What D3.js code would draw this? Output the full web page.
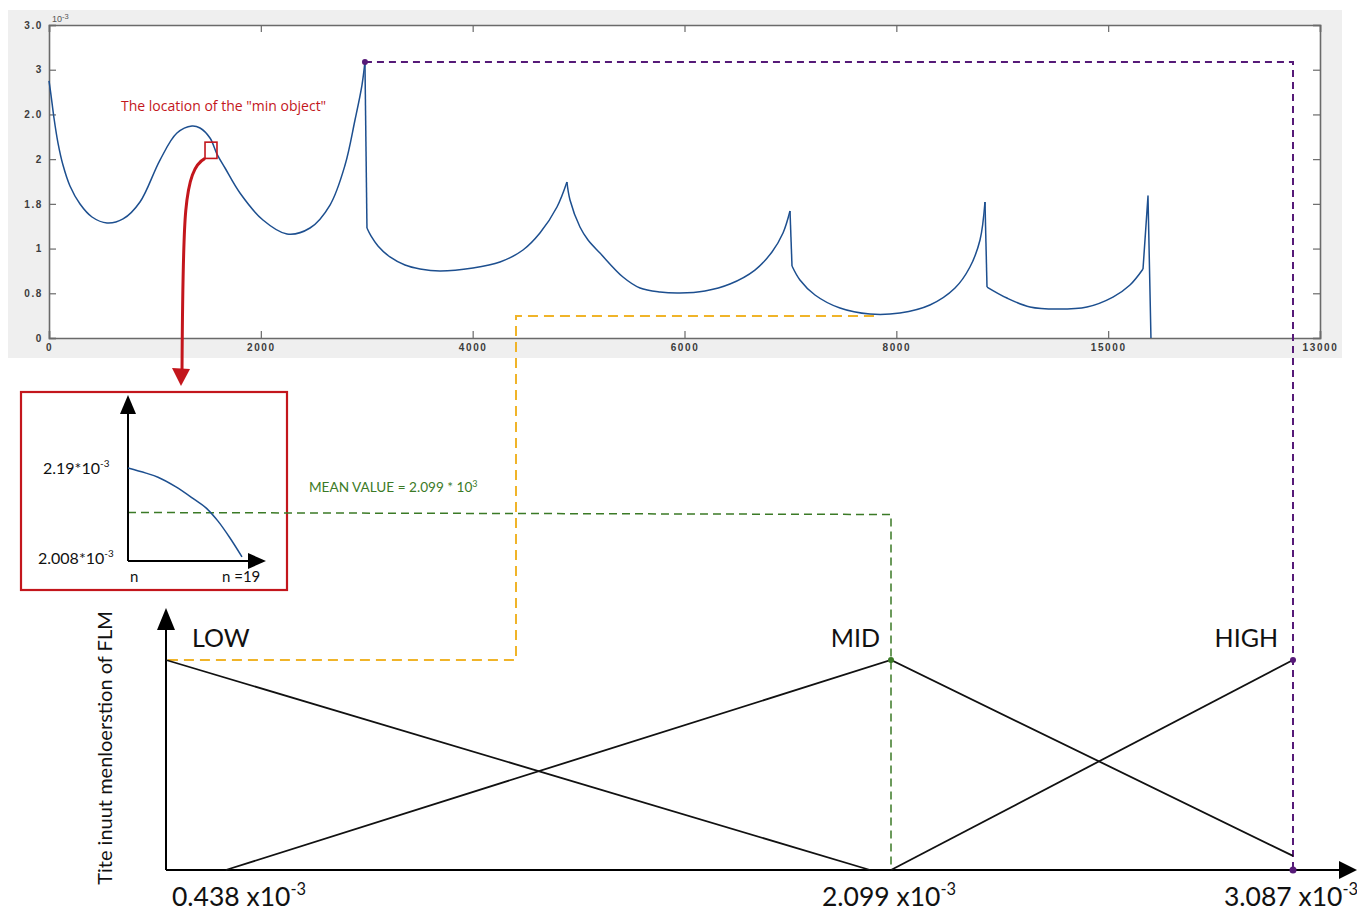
<!DOCTYPE html>
<html>
<head>
<meta charset="utf-8">
<script src="https://cdn.jsdelivr.net/npm/d3@7"></script>
<style>
  html, body { margin: 0; padding: 0; background: #ffffff; }
  svg { display: block; }
</style>
</head>
<body>
<svg id="chart" width="1357" height="911"></svg>
<script>
// ---- Signal (sample index vs. value ×10^-3), split into pieces at the cusps ----
const signalSegments = [
  // smooth part up to the global maximum
  [[0, 2.874], [19, 2.717], [47, 2.460], [85, 2.180], [132, 1.934], [198, 1.700], [293, 1.498],
   [406, 1.353], [548, 1.286], [699, 1.331], [859, 1.521], [1048, 1.990], [1208, 2.292],
   [1350, 2.371], [1426, 2.348], [1520, 2.236], [1586, 2.057], [1662, 1.901], [1803, 1.621],
   [2020, 1.319], [2247, 1.163], [2464, 1.230], [2653, 1.487], [2795, 1.934], [2889, 2.438],
   [2955, 2.829], [2983, 3.087]],
  [[2983, 3.087], [3002, 1.230]],
  [[3002, 1.230], [3040, 1.141], [3106, 1.029], [3219, 0.906], [3361, 0.816], [3503, 0.772],
   [3691, 0.749], [4003, 0.783], [4258, 0.850], [4475, 0.984], [4635, 1.174], [4796, 1.465],
   [4890, 1.744]],
  [[4890, 1.744], [4919, 1.543], [5013, 1.241], [5089, 1.096], [5202, 0.950], [5419, 0.682],
   [5580, 0.559], [5768, 0.514], [5957, 0.503], [6193, 0.526], [6429, 0.604], [6665, 0.760],
   [6826, 0.962], [6930, 1.174], [6996, 1.420]],
  [[6996, 1.420], [7015, 0.805]],
  [[7015, 0.805], [7090, 0.649], [7232, 0.481], [7468, 0.335], [7751, 0.268], [8034, 0.280],
   [8317, 0.369], [8554, 0.559], [8695, 0.794], [8790, 1.096], [8837, 1.521]],
  [[8837, 1.521], [8856, 0.570]],
  [[8856, 0.570], [9044, 0.447], [9262, 0.347], [9517, 0.324], [9800, 0.347], [10045, 0.458],
   [10206, 0.593], [10329, 0.772]],
  [[10329, 0.772], [10376, 1.588], [10404, 0]]
];
const smoothSegments = [true, false, true, true, false, true, false, true, false];

// top plot axes
const topXTicks = [0, 2000, 4000, 6000, 8000, 10000, 12000];
const topXLabels = ["0", "2000", "4000", "6000", "8000", "15000", "13000"];
const topYTicks = [0, 0.5, 1, 1.5, 2, 2.5, 3, 3.5];
const topYLabels = ["0", "0.8", "1", "1.8", "2", "2.0", "3", "3.0"];

// key values (×10^-3)
const peakValue = 3.087;
const peakSample = 2983;
const meanValue = 2.099;
const minValue = 0.438;
const lowestSample = [7751, 0.268];

// "min object" window
const minObjectSamples = [1473, 1586];
const minObjectRange = [2.008, 2.19];

// zoomed window: n = 0..19
const windowN = [0, 3, 5, 8, 11, 13, 15, 17, 19];
const windowValues = [2.190, 2.180, 2.172, 2.153, 2.129, 2.112, 2.086, 2.053, 2.016];

// fuzzy membership functions of the FLM input
const lowX = [0.438, 2.051];
const lowY = [1, 0];
const midX = [0.575, 2.099, 3.087];
const midY = [0, 1, 0.067];
const highX = [2.099, 3.087];
const highY = [0, 1];
const setNames = ["LOW", "MID", "HIGH"];
const setPeaks = [0.438, 2.099, 3.087];
const fuzzyTicks = [0.438, 2.099, 3.087];

const svg = d3.select("#chart");
const BLUE = "#1d4f8f", RED = "#c3161c", GREEN = "#3b7a26", PURPLE = "#561a78", GOLD = "#f0b429";
const FONT = "Lato, 'Open Sans', sans-serif";

// ================= top plot =================
const xTop = d3.scaleLinear().domain([0, 12000]).range([49, 1320]);
const yTop = d3.scaleLinear().domain([0, 3.5]).range([338, 25]);

svg.append("rect").attr("x", 8).attr("y", 10).attr("width", 1334).attr("height", 348)
  .attr("fill", "#efefef");
svg.append("rect").attr("x", xTop.range()[0]).attr("y", yTop.range()[1])
  .attr("width", xTop.range()[1] - xTop.range()[0]).attr("height", yTop.range()[0] - yTop.range()[1])
  .attr("fill", "#ffffff");

function styleAxis(g) {
  g.select(".domain").attr("stroke", "#6a6a6a").attr("stroke-width", 1.6);
  g.selectAll(".tick line").attr("stroke", "#6a6a6a").attr("stroke-width", 1.2);
  g.selectAll(".tick text").attr("fill", "#3c3c3c").attr("font-family", "'Liberation Sans', Arial, sans-serif")
    .attr("font-size", 10).attr("font-weight", "bold").attr("letter-spacing", 1.6);
}

const gxb = svg.append("g").attr("transform", `translate(0,${yTop.range()[0]})`)
  .call(d3.axisBottom(xTop).tickValues(topXTicks).tickSize(-7).tickPadding(6)
    .tickFormat((d, i) => topXLabels[i]));
styleAxis(gxb);
const gxt = svg.append("g").attr("transform", `translate(0,${yTop.range()[1]})`)
  .call(d3.axisTop(xTop).tickValues(topXTicks).tickSize(-7).tickFormat(""));
styleAxis(gxt);
const gyl = svg.append("g").attr("transform", `translate(${xTop.range()[0]},0)`)
  .call(d3.axisLeft(yTop).tickValues(topYTicks).tickSize(-7).tickPadding(6)
    .tickFormat((d, i) => topYLabels[i]));
styleAxis(gyl);
const gyr = svg.append("g").attr("transform", `translate(${xTop.range()[1]},0)`)
  .call(d3.axisRight(yTop).tickValues(topYTicks).tickSize(-7).tickFormat(""));
styleAxis(gyr);
// scale exponent
const expo = svg.append("text").attr("x", xTop.range()[0] + 3).attr("y", yTop.range()[1] - 3)
  .attr("font-family", "'Liberation Sans', Arial, sans-serif").attr("font-size", 9)
  .attr("fill", "#555");
expo.append("tspan").text("10");
expo.append("tspan").attr("dy", -3).attr("font-size", 7.5).text("-3");

// signal trace
const smoothLine = d3.line().x(d => xTop(d[0])).y(d => yTop(d[1])).curve(d3.curveCatmullRom.alpha(0.5));
const straightLine = d3.line().x(d => xTop(d[0])).y(d => yTop(d[1]));
signalSegments.forEach((seg, i) => {
  svg.append("path").attr("d", (smoothSegments[i] ? smoothLine : straightLine)(seg))
    .attr("fill", "none").attr("stroke", BLUE).attr("stroke-width", 1.5)
    .attr("stroke-linejoin", "round");
});

// "min object" marker and caption
const boxX0 = xTop(minObjectSamples[0]), boxX1 = xTop(minObjectSamples[1]);
const boxY0 = yTop(minObjectRange[1]), boxY1 = yTop(minObjectRange[0]);
svg.append("rect").attr("x", boxX0).attr("y", boxY0).attr("width", boxX1 - boxX0)
  .attr("height", boxY1 - boxY0).attr("fill", "none").attr("stroke", RED).attr("stroke-width", 1.6);
svg.append("text").attr("x", 121).attr("y", 111).attr("fill", RED)
  .attr("font-family", "'Open Sans', sans-serif").attr("font-size", 14)
  .text("The location of the \"min object\"");

// ================= fuzzy sets (bottom) =================
const xLow = d3.scaleLinear().domain(fuzzyTicks).range([166, 891, 1293]);
const yLow = d3.scaleLinear().domain([0, 1]).range([870, 660]);
const x0 = xLow(fuzzyTicks[0]), yBase = yLow(0);

// ---- guide lines (drawn first, under the marks) ----
const peakPx = [xTop(peakSample), yTop(peakValue)];
// purple: global maximum -> HIGH
svg.append("path")
  .attr("d", `M${peakPx[0]},${peakPx[1]}H${xLow(peakValue)}V${yBase}`)
  .attr("fill", "none").attr("stroke", PURPLE).attr("stroke-width", 2).attr("stroke-dasharray", "7,5");
// gold: lowest value -> LOW
const goldTurn = 516;
svg.append("path")
  .attr("d", `M${xTop(lowestSample[0]) + 4},${yTop(lowestSample[1]) + 2}H${goldTurn}V${yLow(1)}H${xLow(minValue)}`)
  .attr("fill", "none").attr("stroke", GOLD).attr("stroke-width", 2).attr("stroke-dasharray", "10,6");

// ---- zoomed window inset ----
const inset = { x: 21, y: 392, w: 266, h: 198 };
svg.append("rect").attr("x", inset.x).attr("y", inset.y).attr("width", inset.w).attr("height", inset.h)
  .attr("fill", "#ffffff").attr("stroke", RED).attr("stroke-width", 2.2);
const xIn = d3.scaleLinear().domain([0, 19]).range([128, 242]);
const yIn = d3.scaleLinear().domain([minObjectRange[0], minObjectRange[1]]).range([561, 468]);

// green: mean of the window -> MID
svg.append("path")
  .attr("d", `M${xIn(0)},${yIn(meanValue) - 2}L${xLow(meanValue)},${yIn(meanValue)}V${yBase}`)
  .attr("fill", "none").attr("stroke", GREEN).attr("stroke-width", 1.5).attr("stroke-dasharray", "8,5");

// inset axes with arrowheads
const ax0 = xIn(0), ay0 = yIn.range()[0];
svg.append("line").attr("x1", ax0).attr("y1", ay0).attr("x2", ax0).attr("y2", 410)
  .attr("stroke", "#000").attr("stroke-width", 2);
svg.append("path").attr("d", `M${ax0},395L${ax0 - 8},414L${ax0 + 8},414Z`).attr("fill", "#000");
svg.append("line").attr("x1", ax0).attr("y1", ay0).attr("x2", 252).attr("y2", ay0)
  .attr("stroke", "#000").attr("stroke-width", 2);
svg.append("path").attr("d", `M266,${ay0}L248,${ay0 - 8}L248,${ay0 + 8}Z`).attr("fill", "#000");

svg.append("path")
  .attr("d", d3.line().x((d, i) => xIn(windowN[i])).y(d => yIn(d)).curve(d3.curveMonotoneX)(windowValues))
  .attr("fill", "none").attr("stroke", BLUE).attr("stroke-width", 1.5);

function sciLabel(sel, x, y, base, exp, size, anchor) {
  const t = svg.append("text").attr("x", x).attr("y", y).attr("font-family", FONT)
    .attr("font-size", size).attr("fill", "#111").attr("text-anchor", anchor || "start");
  t.append("tspan").text(base);
  t.append("tspan").attr("dy", -size * 0.42).attr("font-size", size * 0.62).text(exp);
  return t;
}
sciLabel(svg, 43, 474, "2.19*10", "-3", 16);
sciLabel(svg, 38, 564, "2.008*10", "-3", 16);
svg.append("text").attr("x", 130).attr("y", 582).attr("font-family", FONT).attr("font-size", 15)
  .attr("fill", "#111").text("n");
svg.append("text").attr("x", 222).attr("y", 582).attr("font-family", FONT).attr("font-size", 15)
  .attr("fill", "#111").text("n =19");

// red arrow from the marker to the inset
const arrowTipY = inset.y - 6;
svg.append("path")
  .attr("d", `M${boxX0},${boxY1}C${boxX0 - 22},${boxY1 + 12} ${183},${boxY1 + 60} ${182},${arrowTipY - 14}`)
  .attr("fill", "none").attr("stroke", RED).attr("stroke-width", 3);
svg.append("path").attr("d", `M181,${arrowTipY}L172,${arrowTipY - 18}L190,${arrowTipY - 17}Z`).attr("fill", RED);

// mean caption
const mv = svg.append("text").attr("x", 309).attr("y", 492).attr("font-family", FONT)
  .attr("font-size", 13.6).attr("fill", GREEN);
mv.append("tspan").text("MEAN VALUE = 2.099 * 10");
mv.append("tspan").attr("dy", -5).attr("font-size", 9).text("3");

// ---- fuzzy axes ----
svg.append("line").attr("x1", x0).attr("y1", yBase).attr("x2", x0).attr("y2", 628)
  .attr("stroke", "#000").attr("stroke-width", 2);
svg.append("path").attr("d", `M${x0},608L${x0 - 9},630L${x0 + 9},630Z`).attr("fill", "#000");
svg.append("line").attr("x1", x0).attr("y1", yBase).attr("x2", 1342).attr("y2", yBase)
  .attr("stroke", "#000").attr("stroke-width", 2);
svg.append("path").attr("d", `M1357,${yBase}L1339,${yBase - 9}L1339,${yBase + 9}Z`).attr("fill", "#000");

// membership functions
const mfLine = d3.line().x(d => xLow(d[0])).y(d => yLow(d[1]));
[[lowX, lowY], [midX, midY], [highX, highY]].forEach(([xs, ys]) => {
  svg.append("path").attr("d", mfLine(xs.map((v, i) => [v, ys[i]])))
    .attr("fill", "none").attr("stroke", "#111").attr("stroke-width", 1.8);
});

// set names
svg.append("text").attr("x", xLow(setPeaks[0]) + 26).attr("y", 647).attr("font-family", FONT)
  .attr("font-size", 25).attr("fill", "#111").text(setNames[0]);
svg.append("text").attr("x", xLow(setPeaks[1]) - 11).attr("y", 647).attr("font-family", FONT)
  .attr("font-size", 25).attr("fill", "#111").attr("text-anchor", "end").text(setNames[1]);
svg.append("text").attr("x", xLow(setPeaks[2]) - 15).attr("y", 647).attr("font-family", FONT)
  .attr("font-size", 25).attr("fill", "#111").attr("text-anchor", "end").text(setNames[2]);

// markers
svg.append("circle").attr("cx", peakPx[0]).attr("cy", peakPx[1]).attr("r", 3).attr("fill", PURPLE);
svg.append("circle").attr("cx", xLow(peakValue)).attr("cy", yLow(1)).attr("r", 3).attr("fill", PURPLE);
svg.append("circle").attr("cx", xLow(peakValue)).attr("cy", yBase).attr("r", 3.5).attr("fill", PURPLE);
svg.append("circle").attr("cx", xLow(meanValue)).attr("cy", yLow(1)).attr("r", 3).attr("fill", GREEN);

// tick values
const tickFmt = d3.format(".3f");
fuzzyTicks.forEach((v, i) => {
  const anchor = i === 0 ? "start" : "middle";
  const x = i === 0 ? xLow(v) + 6 : xLow(v) - 2;
  sciLabel(svg, x, 906, tickFmt(v) + " x10", "-3", 26.5, anchor);
});

// y-axis title
svg.append("text").attr("transform", `translate(112,748) rotate(-90)`)
  .attr("text-anchor", "middle").attr("font-family", FONT).attr("font-size", 20).attr("fill", "#111")
  .text("Tite inuut menloerstion of FLM");
</script>
</body>
</html>
